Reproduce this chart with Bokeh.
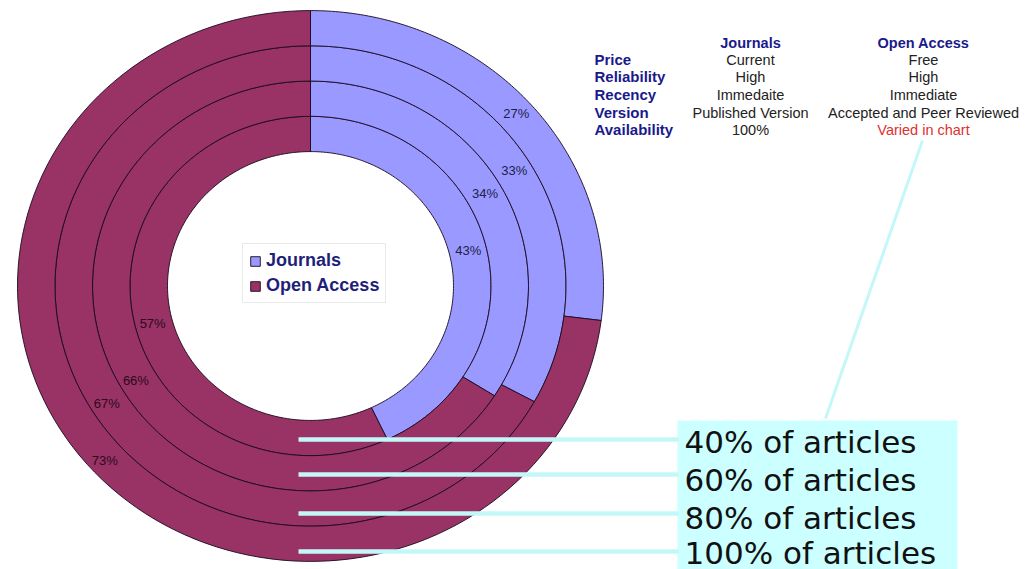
import numpy as np
from bokeh.plotting import figure
from bokeh.models import Range1d, Legend, LegendItem
from bokeh.core.properties import value
from bokeh.embed import file_html
from bokeh.resources import INLINE

# ---------------- data ----------------
series = ["Journals", "Open Access"]
journals_pct = [43, 34, 33, 27]        # rings, inner -> outer
open_access_pct = [57, 66, 67, 73]     # rings, inner -> outer
ring_labels = ["40% of articles", "60% of articles", "80% of articles", "100% of articles"]

table_cols = ["Journals", "Open Access"]
table_rows = ["Price", "Reliability", "Recency", "Version", "Availability"]
table_journals = ["Current", "High", "Immedaite", "Published Version", "100%"]
table_open = ["Free", "High", "Immediate", "Accepted and Peer Reviewed", "Varied in chart"]

# ---------------- style / layout ----------------
colors = {"Journals": "#9999FF", "Open Access": "#993366"}
CX, CY = 310.0, 285.5
R0, RW = 143.0, 37.5
KY = 0.94
FONT = "Liberation Sans"

p = figure(width=1025, height=569, output_backend="svg", toolbar_location=None,
           x_range=Range1d(0, 1025), y_range=Range1d(569, 0), min_border=0)
p.axis.visible = False
p.grid.visible = False
p.outline_line_color = None
p.background_fill_color = "white"


def annular(t0, t1, rin, rout, n=120):
    t = np.linspace(t0, t1, n)
    xo = CX + rout * np.sin(t)
    yo = CY - rout * KY * np.cos(t)
    xi = CX + rin * np.sin(t[::-1])
    yi = CY - rin * KY * np.cos(t[::-1])
    return list(np.concatenate([xo, xi])), list(np.concatenate([yo, yi]))


xs = {s: [] for s in series}
ys = {s: [] for s in series}
lab = {s: {"x": [], "y": [], "t": []} for s in series}
for i, (j, o) in enumerate(zip(journals_pct, open_access_pct)):
    rin, rout = R0 + i * RW, R0 + (i + 1) * RW
    tot = j + o
    a1 = 2 * np.pi * j / tot
    for s, (t0, t1), v in [("Journals", (0, a1), j), ("Open Access", (a1, 2 * np.pi), o)]:
        x, y = annular(t0, t1, rin, rout)
        xs[s].append(x)
        ys[s].append(y)
        tm = (t0 + t1) / 2
        rm = (rin + rout) / 2
        lab[s]["x"].append(CX + rm * np.sin(tm))
        lab[s]["y"].append(CY - rm * KY * np.cos(tm))
        lab[s]["t"].append(f"{v}%")

rend = {}
for s in series:
    rend[s] = p.patches(xs[s], ys[s], fill_color=colors[s], line_color="#1a0a20",
                        line_width=1, line_alpha=0.9)

p.text(lab["Journals"]["x"], lab["Journals"]["y"], text=lab["Journals"]["t"],
       text_font=value(FONT), text_font_size="13px", text_color="#20204a",
       text_align="center", text_baseline="middle", y_offset=-2)
p.text(lab["Open Access"]["x"], lab["Open Access"]["y"], text=lab["Open Access"]["t"],
       text_font=value(FONT), text_font_size="13px", text_color="#2a0a1a",
       text_align="center", text_baseline="middle", y_offset=4)

# cyan callout box and lines
cyan = "#CCFFFF"
p.quad(left=677, right=957, top=420, bottom=575, fill_color=cyan, line_color=None)
line_y = [439, 474, 513, 551]
p.segment(x0=[298] * 4, y0=line_y, x1=[678] * 4, y1=line_y, line_color="#C4F8F8", line_width=4.5)
p.segment(x0=[825], y0=[418], x1=[922], y1=[140], line_color="#C4F8F8", line_width=3)
p.text([684] * 4, [441, 479, 517, 552], text=ring_labels, text_font=value("DejaVu Sans"),
       text_font_size="31px", text_color="#111111", text_align="left", text_baseline="middle")

# table
navy = "#1a1a8c"
col_x = [750, 923]
p.text(col_x, [42, 42], text=table_cols, text_font=value(FONT), text_font_size="14.5px",
       text_font_style="bold", text_color=navy, text_align="center", text_baseline="middle")
row_y = [59, 76, 94, 112, 129]
p.text([594] * 5, row_y, text=table_rows, text_font=value(FONT), text_font_size="15px",
       text_font_style="bold", text_color=navy, text_align="left", text_baseline="middle")
p.text([750] * 5, row_y, text=table_journals, text_font=value(FONT), text_font_size="14.5px",
       text_color="#222222", text_align="center", text_baseline="middle")
open_colors = ["#222222"] * 4 + ["#e03030"]
p.text([923] * 5, row_y, text=table_open, text_font=value(FONT), text_font_size="14.5px",
       text_color=open_colors, text_align="center", text_baseline="middle")

# legend: location is measured in screen px from the frame's bottom-left
legend = Legend(items=[LegendItem(label=s, renderers=[rend[s]]) for s in series],
                location=(242, 266), orientation="vertical",
                glyph_width=12, glyph_height=12, label_standoff=5, padding=6, spacing=4,
                label_text_font=FONT, label_text_font_size="18px", label_text_font_style="bold",
                label_text_color="#1f1f7a", border_line_color="#d4d4d4",
                background_fill_color="white", background_fill_alpha=1.0, margin=0)
p.add_layout(legend, "center")

open("out.html", "w").write(file_html(p, INLINE))
